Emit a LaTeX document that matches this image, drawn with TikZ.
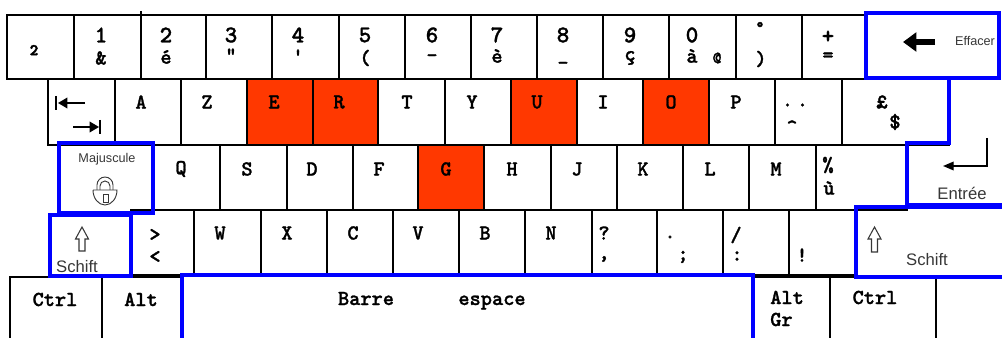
\documentclass[tikz,border=0pt]{standalone}
\usepackage{fontspec}
\setsansfont{Liberation Sans}
\newfontfamily\keymono{lmmonolt10-bold.otf}[FakeBold=1.2]
\usetikzlibrary{arrows.meta}
\definecolor{keyred}{RGB}{255,56,0}
\definecolor{keyblue}{RGB}{0,0,255}
\definecolor{signgray}{RGB}{55,55,55}

\begin{document}
\begin{tikzpicture}[x=0.75pt, y=-0.75pt,
    keyline/.style={draw=black, line width=1.3pt},
    hotkey/.style={keyline, fill=keyred},
    bluekey/.style={draw=keyblue, line width=3.6pt},
    glyphline/.style={draw=black, line width=1pt},
    lockline/.style={draw=signgray, line width=0.7pt},
    lettercap/.style={font=\keymono\fontsize{16}{16}\selectfont, inner sep=0pt},
    digitcap/.style={font=\keymono\fontsize{18}{18}\selectfont, inner sep=0pt},
    smallcap/.style={font=\keymono\fontsize{12.5}{12.5}\selectfont, inner sep=0pt},
    signtext/.style={font=\sffamily\fontsize{9.5}{11}\selectfont, text=signgray, inner sep=0pt},
    shifttext/.style={font=\sffamily\fontsize{12.5}{14}\selectfont, text=signgray, inner sep=0pt}]

    \useasboundingbox (0,0) rectangle (1002,338);
    \clip (0,0) rectangle (1002,338);

    % Row 1: digits
    \foreach \xl/\xr in {7/74,74/141,141/206,206/272,272/339,339/405,405/471,471/537,537/603,603/669,669/736,736/802,802/866}
        \draw[keyline] (\xl,15) rectangle (\xr,79);
    \draw[keyline] (141,11) -- (141,15);

    % Row 2: A Z E R T Y
    \foreach \xl/\xr in {48/115,115/181,181/247,378/445,445/511,577/643,709/775,775/842,842/949}
        \draw[keyline] (\xl,79) rectangle (\xr,145);
    \foreach \xl/\xr in {247/313,313/378,511/577,643/709}
        \draw[hotkey] (\xl,79) rectangle (\xr,145);

    % Row 3: Q S D F G H
    \foreach \xl/\xr in {153/220,220/287,287/353,353/418,484/551,551/617,617/683,683/749,749/816,816/907}
        \draw[keyline] (\xl,145) rectangle (\xr,210);
    \draw[hotkey] (418,145) rectangle (484,210);

    % Row 4: W X C V B N
    \foreach \xl/\xr in {131/194,194/261,261/327,327/393,393/459,459/525,525/592,592/657,657/723,723/789,789/856}
        \draw[keyline] (\xl,210) rectangle (\xr,275);

    % Row 5: Ctrl Alt ... AltGr Ctrl
    \foreach \xl/\xr in {10/102,102/182,753/830,830/936}
        \draw[keyline] (\xl,277) rectangle (\xr,350);

    % Special keys framed in blue
    \draw[bluekey] (866,13) rectangle (999,78);
    \draw[bluekey] (949,78) -- (949,143) -- (907,143) -- (907,205) -- (1010,205);
    \draw[bluekey] (59,143) rectangle (153,213);
    \draw[bluekey] (50,215) rectangle (131,276);
    \draw[bluekey] (856,207) rectangle (1010,277);
    \draw[bluekey] (182,350) -- (182,275) -- (753,275) -- (753,350);

    % Row 1 labels
    \node[font=\keymono\fontsize{24}{24}\selectfont, inner sep=0pt] (sup2) at (34,55) {²};
    \foreach \d/\s/\x/\ys in {1/\&/101/58, 2/é/166/57, 3/\textquotedbl/231/55, 4/\textquotesingle/298/56,
                              5/(/365/58, 6/-/432/58, 7/è/497/56, 8/\_/563/62, 9/ç/630/58, 0/à/692/56} {
        \node[digitcap] (dig\d) at (\x,35) {\d};
        \node[lettercap] (sym\d) at (\x,\ys) {\s};
    }
    \node[font=\keymono\fontsize{13}{13}\selectfont, inner sep=0pt] (symat) at (717,58) {@};
    \node[font=\keymono\fontsize{24}{24}\selectfont, inner sep=0pt] (degr) at (760,32) {°};
    \node[lettercap] (rpar) at (761,59) {)};
    \node[digitcap] (plus) at (828,37) {+};
    \node[lettercap] (equal) at (828,57) {=};

    % Effacer
    \draw[line width=3.8pt, -{Triangle[length=10pt,width=14pt]}] (935,42) -- (903,42);
    \node[signtext] (effacer) at (975,41) {Effacer};

    % Tab
    \draw[glyphline, -{Triangle[length=7pt,width=8pt]}] (85,103) -- (58,103);
    \draw[line width=1.6pt] (56,96) -- (56,110);
    \draw[glyphline, -{Triangle[length=7pt,width=8pt]}] (73,127) -- (99,127);
    \draw[line width=1.6pt] (100,120) -- (100,134);

    % Row 2 labels
    \foreach \ch/\x in {A/141,Z/207,E/274,R/339,T/407,Y/472,U/537,I/603,O/671,P/736}
        \node[lettercap] (key\ch) at (\x,102) {\ch};
    \node[lettercap] (trema) at (795,105) {.\kern2.9pt.};
    \node[lettercap] (circ) at (792,127) {\textasciicircum};
    \node[lettercap] (pound) at (882,102) {£};
    \node[lettercap] (dollar) at (895,122) {\$};

    % Majuscule
    \node[signtext] (majuscule) at (107,159) {Majuscule};
    \draw[lockline] (97,190) -- (97,185) arc[start angle=180, end angle=360, radius=8] -- (113,190);
    \draw[lockline] (100,190) -- (100,186) arc[start angle=180, end angle=360, radius=5] -- (110,190);
    \draw[lockline] (93,190) -- (117,190) arc[start angle=0, end angle=180, x radius=12, y radius=15];
    \draw[lockline] (103,194) rectangle (108,202);

    % Row 3 labels
    \foreach \ch/\x in {Q/181,S/247,D/312,F/379,G/446,H/512,J/577,K/643,L/710,M/776}
        \node[lettercap] (key\ch) at (\x,169) {\ch};
    \node[lettercap] (percent) at (828,165) {\%};
    \node[lettercap] (ugrave) at (829,188) {ù};

    % Entree
    \draw[glyphline, -{Triangle[length=8pt,width=6.5pt]}] (987,138) -- (987,166) -- (943,166);
    \node[shifttext] (entree) at (962,193) {Entrée};

    % Row 4 labels
    \draw[draw=signgray, line width=0.8pt] (82,227) -- (88.5,239) -- (85,239) -- (85,251) -- (79,251) -- (79,239) -- (75.5,239) -- cycle;
    \node[shifttext] (shiftl) at (77,267) {Schift};
    \node[lettercap] (greater) at (155,235) {>};
    \node[lettercap] (less) at (155,257) {<};
    \foreach \ch/\x in {W/220,X/287,C/353,V/418,B/485,N/551}
        \node[lettercap] (key\ch) at (\x,233) {\ch};
    \node[lettercap] (quest) at (604,233) {?};
    \node[lettercap] (comma) at (604,259) {,};
    \node[lettercap] (point) at (670,237) {.};
    \node[lettercap] (semi) at (683,257) {;};
    \node[lettercap] (slash) at (736,235) {/};
    \node[lettercap] (colon) at (737,256) {:};
    \node[lettercap] (excl) at (802,255) {!};
    \draw[draw=signgray, line width=0.8pt] (874.5,227) -- (881,239) -- (877.5,239) -- (877.5,252) -- (871.5,252) -- (871.5,239) -- (868,239) -- cycle;
    \node[shifttext] (shiftr) at (927,260) {Schift};

    % Row 5 labels
    \node[lettercap, anchor=base] (ctrll) at (55,306) {Ctrl};
    \node[lettercap, anchor=base] (alt) at (141,306) {Alt};
    \node[lettercap, anchor=base] (barre) at (366,305) {Barre};
    \node[lettercap, anchor=base] (espace) at (492,305) {espace};
    \node[lettercap, anchor=base west] (altgr) at (770,304) {Alt};
    \node[lettercap, anchor=base west] (gr) at (770,326) {Gr};
    \node[lettercap, anchor=base] (ctrlr) at (875,304) {Ctrl};
\end{tikzpicture}
\end{document}
